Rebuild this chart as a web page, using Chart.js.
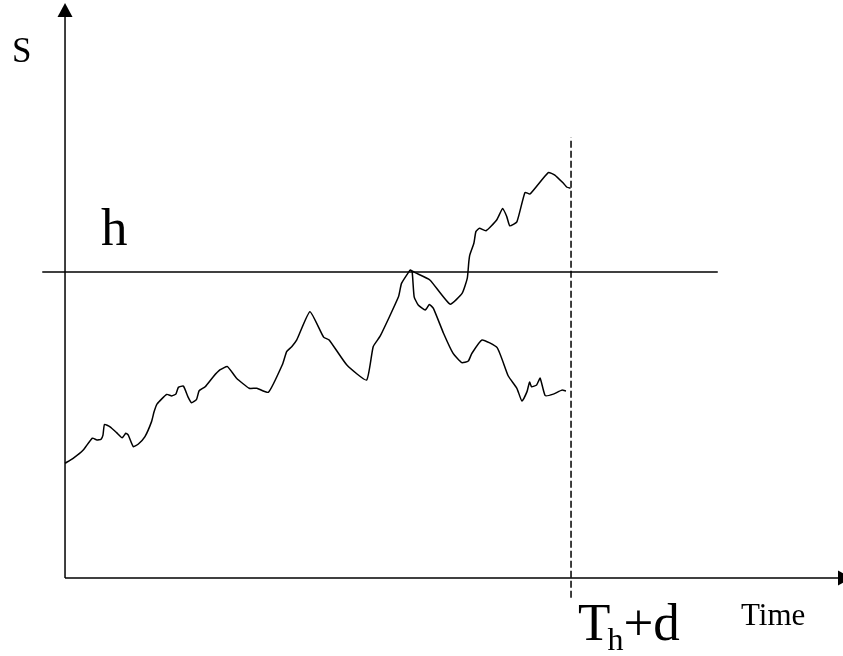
<!DOCTYPE html>
<html>
<head>
<meta charset="utf-8">
<script src="https://cdn.jsdelivr.net/npm/chart.js@4.4.1/dist/chart.umd.min.js"></script>
<style>
  html, body { margin: 0; padding: 0; background: #fff; }
  #wrap { width: 843px; height: 656px; position: relative; }
</style>
</head>
<body>
<div id="wrap"><canvas id="chart"></canvas></div>
<script>
// time runs 0 .. 100 at T_h+d, S is scaled so the barrier h = 100
const hLevel = 100;
const hitTime = 100;

// path up to the first touch of h
const mainTime = [0, 1.6, 3.6, 5.4, 6.3, 7.1, 7.5, 7.8, 8.9, 10.2, 11.3, 12.0, 12.5, 13.5, 14.5, 15.8, 17.1, 17.6, 18.2, 20.1,
  21.1, 21.9, 22.4, 23.4, 24.3, 25.0, 26.0, 26.5, 27.7, 29.3, 30.6, 32.1, 33.9, 36.4, 37.9, 40.2, 43.0, 43.8, 44.8, 45.8,
  48.4, 51.1, 52.2, 55.7, 59.6, 60.9, 62.3, 65.9, 66.5, 68.2];
const mainS = [37.5, 39.1, 41.8, 45.7, 45.1, 45.3, 46.7, 50.2, 49.4, 47.5, 45.8, 47.3, 46.7, 42.9, 43.8, 46.2, 51.1, 54.3, 56.9, 60.0,
  59.5, 60.1, 62.3, 62.7, 59.2, 57.3, 58.4, 61.2, 62.5, 65.8, 68.0, 69.1, 65.3, 62.0, 62.0, 60.7, 69.9, 74.0, 75.6, 77.8,
  87.0, 78.7, 77.8, 69.6, 64.7, 75.6, 79.1, 91.9, 96.3, 100.7];

// reflected branch (ends above h)
const upperTime = [68.2, 69.2, 72.1, 76.1, 78.5, 79.5, 79.8, 80.0, 80.8, 81.2, 81.9, 83.2, 85.3, 86.5, 87.3, 87.9, 89.3, 90.9,
  91.9, 95.5, 96.8, 98.5, 99.2, 99.9];
const upperS = [100.7, 99.8, 97.4, 89.5, 93.1, 98.0, 103.3, 105.6, 109.4, 113.2, 114.3, 113.5, 117.0, 120.8, 118.1, 115.1, 116.4, 126.0,
  125.5, 132.5, 131.7, 129.0, 127.7, 127.4];

// original branch (ends below h)
const lowerTime = [68.2, 68.6, 69.0, 69.8, 71.2, 72.0, 72.8, 74.8, 76.7, 78.4, 79.7, 80.4, 82.4, 85.4, 87.6, 89.3, 90.3, 91.3,
  91.8, 92.2, 93.2, 93.9, 94.9, 96.5, 98.2, 99.0];
const lowerS = [100.7, 100.1, 91.9, 89.2, 87.6, 89.4, 88.1, 80.0, 73.4, 70.4, 70.9, 73.4, 77.8, 75.3, 66.0, 62.0, 57.8, 60.9,
  64.0, 62.5, 63.1, 65.3, 59.6, 60.1, 61.4, 61.1];

// extents of the guide lines
const barrierTime = [-4.5, 129];
const markerS = [-6.5, 144];

function toPoints(xs, ys) {
  return xs.map((x, i) => ({ x: x, y: ys[i] }));
}

function pathDataset(xs, ys) {
  return {
    data: toPoints(xs, ys),
    borderColor: "#000",
    borderWidth: 1.5,
    pointRadius: 0,
    tension: 0.15,
    fill: false
  };
}

const axesPlugin = {
  id: "axesPlugin",
  afterDatasetsDraw(chart) {
    const ctx = chart.ctx;
    const xs = chart.scales.x;
    const ys = chart.scales.y;
    const x0 = xs.getPixelForValue(0);
    const y0 = ys.getPixelForValue(0);

    ctx.save();
    ctx.strokeStyle = "#000";
    ctx.fillStyle = "#000";
    ctx.lineWidth = 1.5;

    // S axis
    ctx.beginPath();
    ctx.moveTo(x0, y0);
    ctx.lineTo(x0, 14);
    ctx.stroke();
    ctx.beginPath();
    ctx.moveTo(x0, 3);
    ctx.lineTo(x0 - 7.5, 17);
    ctx.lineTo(x0 + 7.5, 17);
    ctx.closePath();
    ctx.fill();

    // time axis
    ctx.beginPath();
    ctx.moveTo(x0, y0);
    ctx.lineTo(840, y0);
    ctx.stroke();
    ctx.beginPath();
    ctx.moveTo(852, y0);
    ctx.lineTo(838, y0 - 7.5);
    ctx.lineTo(838, y0 + 7.5);
    ctx.closePath();
    ctx.fill();

    // labels
    const serif = '"Liberation Serif", "DejaVu Serif", serif';
    ctx.textBaseline = "alphabetic";
    ctx.textAlign = "left";

    ctx.font = "35px " + serif;
    ctx.fillText("S", 12, 62);

    ctx.font = "53px " + serif;
    ctx.fillText("h", 101, ys.getPixelForValue(hLevel) - 27);

    const tx = xs.getPixelForValue(hitTime) + 7;
    ctx.fillText("T", tx, 640);
    const tw = ctx.measureText("T").width;
    ctx.font = "32px " + serif;
    ctx.fillText("h", tx + tw - 3, 650);
    const hw = ctx.measureText("h").width;
    ctx.font = "53px " + serif;
    ctx.fillText("+d", tx + tw - 3 + hw, 640);

    ctx.font = "31px " + serif;
    ctx.fillText("Time", 741, 625);

    ctx.restore();
  }
};

const ctx = document.getElementById("chart").getContext("2d");

new Chart(ctx, {
  type: "line",
  data: {
    datasets: [
      pathDataset(mainTime, mainS),
      pathDataset(upperTime, upperS),
      pathDataset(lowerTime, lowerS),
      {
        data: toPoints(barrierTime, [hLevel, hLevel]),
        borderColor: "#000",
        borderWidth: 1.5,
        pointRadius: 0
      },
      {
        data: toPoints([hitTime, hitTime], markerS),
        borderColor: "#000",
        borderWidth: 1.5,
        borderDash: [7, 3],
        pointRadius: 0
      }
    ]
  },
  options: {
    responsive: true,
    maintainAspectRatio: false,
    animation: false,
    layout: { padding: 0 },
    plugins: {
      legend: { display: false },
      tooltip: { enabled: false }
    },
    scales: {
      x: { type: "linear", min: -12.85, max: 153.75, display: false },
      y: { type: "linear", min: -25.5, max: 188.9, display: false }
    }
  },
  plugins: [axesPlugin]
});
</script>
</body>
</html>
